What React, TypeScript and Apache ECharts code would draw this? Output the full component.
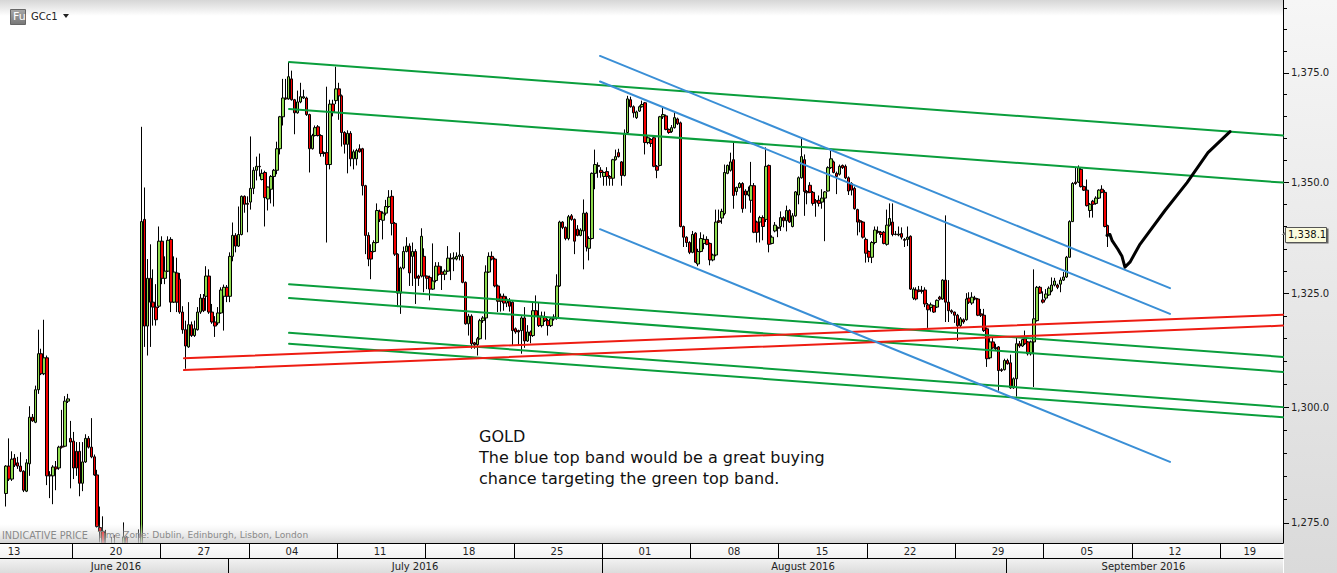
import React, { useEffect, useRef } from "react";
import * as echarts from "echarts";

// Every bar is [open, close, low, high].
const juneBars = [
  [1281.3,1287.2,1278.5,1287.4],[1287.2,1284.4,1284,1293.2],[1284.4,1288.7,1284,1290.4],[1288.9,1287.4,1287,1289.8],[1287.9,1287.2,1286.6,1289.2],[1287.2,1286.1,1285.9,1290.2],
  [1286.1,1282,1281.6,1286.3],[1281.8,1287.9,1281.6,1288.7],[1287.7,1297.8,1285.1,1300.2],[1297.8,1297,1296.8,1298.5],[1296.7,1303.8,1296.5,1304.7],[1303.8,1311.7,1302.9,1317],
  [1311.7,1307.3,1307,1312.8],[1307.3,1310.8,1307,1319.2],[1310.8,1285.1,1283.1,1311.3],[1285.3,1285.1,1280.3,1286.1],[1285.1,1287,1279,1287.4],[1287,1286.6,1282,1288.3],
  [1286.8,1291.3,1286.4,1291.6],[1291.5,1291.3,1291,1299.4],[1291.5,1301.3,1291.3,1302.4],[1301.3,1301.8,1300.9,1302.9],[1293.2,1292.4,1282.4,1297],[1292.6,1286.8,1284.4,1294.6],
  [1290.4,1286.8,1285.1,1292.4],[1290.4,1283.5,1280.7,1292.4],[1283.5,1288.1,1281.8,1292.4],[1288.1,1293.2,1287.9,1294.1],[1293.2,1291.3,1291,1293.7],[1291.3,1289.2,1288.9,1297.6],
  [1289.2,1285.3,1285.1,1289.7],[1285.3,1274.2,1274,1286.4],[1274,1273.2,1270.8,1278.5],[1273.2,1270,1268.5,1276.4],[1269.6,1268.7,1266,1273.5],[1268.7,1269.8,1266,1270],
  [1269.8,1268.6,1266,1272],[1268.6,1269.5,1265,1272.4],[1269.5,1268.9,1265,1270.2],[1268.9,1269.6,1266,1270.3],[1269.6,1272,1267,1275.1],[1272,1269.5,1268.7,1272.2],
  [1269.5,1269.3,1266,1270.3],[1269.3,1268.3,1265,1270.2],[1268.3,1269.3,1265.7,1270.5],[1269.3,1270,1267,1273.6],[1269.5,1341.1,1268,1362.6],[1341.6,1317.8,1313.2,1348.8],
  [1317.8,1328.4,1311.3,1332.7],[1328.4,1323.1,1313.2,1336],[1323.1,1322,1317.9,1330.4],[1322,1319.2,1317.9,1327.1],[1322.2,1336.7,1321.8,1340],[1336.7,1328.4,1327.1,1337.8],
  [1328.4,1330,1327.1,1333.3],[1330,1336.9,1329.8,1337.8],[1337.1,1323.1,1320.9,1337.6],[1323.1,1329.8,1322.9,1333.3],[1329.6,1323.1,1320.9,1333],[1328.2,1320.9,1320.5,1329.6],
  [1320.9,1317,1316.1,1322.2],[1317,1313.4,1308.4,1319],[1313.2,1318.1,1313,1323.1],[1318.1,1315.7,1315.4,1318.8],[1315.7,1317.2,1315.4,1319],[1317,1320.9,1316.8,1322],
  [1320.9,1324,1320.5,1324.9],[1324,1321.2,1320.9,1324.9],[1324.4,1328.9,1321.2,1331.1],[1328.9,1320.9,1320.5,1330.4],[1320.9,1318.7,1318.3,1322.7],[1318.7,1317.8,1315.4,1320],
  [1318.5,1320.7,1318,1322],[1320.7,1325.8,1320.5,1326.4],
];
const julyBars = [
  [1324.4,1326.4,1316.8,1327],[1326.4,1324.4,1323.1,1326.9],[1324.4,1333.3,1323.1,1334.2],[1333.3,1338,1332.2,1340.9],[1338,1335.6,1334.2,1338.5],[1335.6,1338.2,1335.4,1344.5],
  [1338.2,1346.8,1338,1347],[1346.8,1345,1343.1,1347],[1345.2,1345,1338.7,1346.8],[1345.5,1348.6,1343.8,1360.4],[1348.6,1352.7,1347.3,1353.4],[1352.7,1353.6,1350.4,1355.8],
  [1353.6,1353.5,1351.3,1356.5],[1350.6,1352,1350.4,1352.9],[1352.2,1346.5,1340,1352.6],[1346.2,1348.9,1343.6,1349],[1348.4,1351.3,1345.2,1351.6],[1351.3,1352.7,1344.5,1353],
  [1352.7,1357.6,1351.8,1359.2],[1357.6,1364.9,1356.3,1365.1],[1364.9,1369.2,1362.9,1373.6],[1369.2,1369,1368.8,1373.6],[1369,1374.1,1368.8,1377.5],[1373.6,1368.8,1368.6,1375.5],
  [1368.8,1365.8,1360.9,1369],[1365.8,1368.3,1365.6,1370.9],[1368.3,1369.5,1368,1372.7],[1369.2,1369.5,1369,1371.1],[1369.2,1365.4,1365.1,1369.5],[1365.4,1357.6,1352.2,1365.6],
  [1357.6,1360.6,1357.4,1361],[1360.6,1362.4,1360.4,1362.9],[1362.6,1360.6,1360.4,1363],[1360.6,1356.5,1355.8,1360.9],[1356.7,1356.5,1355.8,1357],[1356.7,1354,1336.4,1371.8],
  [1354,1367.8,1352.9,1368.8],[1367.8,1366,1365,1368.8],[1368.6,1371.3,1367.8,1376.4],[1371.3,1369.7,1364.2,1372.7],[1369.7,1361.3,1358.1,1370],[1361.3,1358.6,1356.5,1361.6],
  [1358.6,1361.1,1352,1361.8],[1361.1,1355.3,1353.6,1361.6],[1355.3,1356.9,1352.9,1357.4],[1355.3,1357.2,1353.8,1357.6],[1357.6,1356.9,1356.7,1358.6],[1357.6,1349.2,1347,1357.8],
  [1349.2,1338,1333.8,1349.4],[1338,1332.7,1331.1,1338.7],[1334.4,1332.7,1328.2,1336],[1334.4,1336.4,1334.2,1336.9],[1336.4,1343.6,1336.2,1345.2],[1343.4,1341.6,1341,1343.8],
  [1341.4,1343,1337.1,1343.4],[1343,1344.5,1342.5,1346],[1344.5,1346.6,1344.2,1348.2],[1346.8,1340.7,1338,1348.2],[1340.7,1333.8,1333.4,1341],[1333.8,1325.1,1322,1334],
  [1325.1,1330.7,1320.5,1331],[1330.7,1334.4,1330.4,1335.5],[1334.4,1335.6,1334.2,1337.6],[1335.6,1329.6,1326.7,1336.2],[1333.3,1334.4,1326.7,1336.4],
  [1334.4,1328.4,1322.7,1334.9],[1328.9,1328.4,1326.7,1329.2],[1328.9,1337.8,1328.6,1339.6],[1333.3,1328.9,1325.3,1335.1],[1328.9,1328.4,1326,1329],[1328.6,1326,1323.5,1329],
  [1326,1327.8,1325.8,1336.2],[1327.9,1331.1,1327.5,1332],[1331.1,1329.3,1329,1332],[1329.8,1329.3,1325.8,1331.1],[1329.3,1330,1328,1330.4],[1330,1332.9,1329.8,1335.6],
  [1332.9,1332.7,1328,1334],[1332.7,1333,1330,1334.2],[1332.7,1333.3,1332.4,1334.2],[1333.3,1333.6,1332.4,1338.7],[1333.3,1327.5,1327.3,1333.8],[1327.5,1318.3,1318.1,1327.7],
  [1318.3,1320,1315.7,1320.5],[1320,1313.9,1312.8,1320.4],[1314.1,1313.7,1312.8,1314.3],[1313.7,1315,1311.3,1315.4],[1315,1319,1314.8,1319.4],[1319,1319.6,1318.5,1320],
  [1319.6,1329.8,1314.8,1331.3],[1329.8,1333.3,1329.6,1334.2],[1333.3,1332.7,1332.4,1334.4],[1332.7,1326.7,1326.4,1333],[1326.7,1323.3,1320.9,1327],[1324.4,1323.3,1321,1325],
  [1324.4,1322.9,1321.2,1325],[1322.9,1323.8,1322,1324.4],[1323.3,1322.2,1321,1324],[1323.1,1316.8,1313.4,1323.3],[1317.2,1316.5,1316.1,1317.5],
  [1316.8,1316.5,1313.4,1317],[1316.8,1319.6,1311.7,1320],[1319.6,1314.5,1313,1322],[1314.5,1316.5,1314.3,1318],[1316.5,1315.7,1314,1316.8],[1315.7,1321.2,1315.4,1323.1],
  [1321.2,1320,1319.8,1324.6],[1320,1317.9,1317.6,1322.9],[1317.9,1320,1317.5,1321],[1319.8,1319,1318.7,1321],[1319,1317.9,1315.7,1319.4],[1317.9,1319.4,1317.6,1319.8],
  [1319.4,1319.8,1319,1320.4],[1319.6,1326.7,1319.2,1329.3],[1326.7,1341,1326.5,1341.3],[1341,1339.8,1339.4,1341.2],[1339.8,1337.3,1336.9,1340],[1337.3,1342.2,1336.9,1342.6],
];
const augustBars = [
  [1342.4,1341.6,1341.3,1342.8],[1341.6,1336.7,1333.8,1341.8],[1339.4,1338,1337.8,1340.3],[1338,1339.2,1337.8,1339.6],[1339,1343,1330.4,1346.1],[1343,1335.4,1334.4,1343.3],
  [1335.1,1337.3,1332.4,1337.8],[1337.3,1352,1337.1,1352.2],[1352,1354,1348.4,1357.4],[1353.8,1353.6,1351,1354.5],[1352.7,1352.2,1351,1353.4],[1351.3,1352.2,1349.2,1352.4],
  [1352.4,1351.3,1349.2,1353.4],[1351.3,1350.9,1349.2,1351.6],[1350.9,1355.1,1349.2,1355.3],[1355.1,1355.8,1354.9,1357.4],[1356.7,1355.8,1355.6,1357.6],[1354.6,1351.5,1349.2,1354.8],
  [1351.5,1361.1,1351.3,1362],[1361.3,1369,1361,1369.7],[1368.8,1367.2,1367,1369.5],[1367.2,1365.8,1364.7,1367.5],[1364.7,1366,1364.4,1366.3],
  [1366.2,1367.2,1366,1367.5],[1367.2,1367.7,1367,1368.6],[1368.1,1359,1356.3,1368.3],[1359,1360.1,1358.6,1360.6],[1359.7,1358.8,1358,1360],[1360.1,1353.6,1353.4,1360.4],
  [1353.6,1352.7,1350.9,1353.9],[1353.8,1364.9,1353.6,1365.1],[1364.9,1365.4,1364.4,1367],[1365.1,1362,1361.8,1365.4],[1362,1361.3,1361,1362.2],[1361.5,1362.4,1361.2,1363],
  [1362.4,1364.7,1362.2,1366],[1364.4,1363.3,1363,1364.7],[1363.5,1340,1339.8,1363.8],[1340,1337.6,1335.4,1340.2],[1337.6,1336.4,1335.4,1337.8],[1336.4,1334.2,1333.8,1336.7],
  [1334.2,1338.2,1334,1339],[1338.5,1332,1331.8,1338.7],[1331.6,1334.4,1331.1,1335],[1334.4,1337.3,1334.2,1338.7],[1336.2,1337.1,1334.9,1338.2],
  [1337.1,1336,1335.8,1337.8],[1336.2,1332.5,1331.3,1336.4],[1332.5,1333.6,1332.2,1333.9],[1333.6,1341,1333.3,1343.8],[1341.3,1341,1340.8,1343.8],[1341.9,1343.4,1340.6,1344],
  [1342.9,1352.2,1342.5,1354],[1352,1353.8,1351.8,1354],[1352.7,1354.6,1352.4,1356.7],[1355.1,1347,1344,1359],[1347.9,1348.8,1347,1349],[1348.8,1349.7,1348.6,1350],
  [1349.7,1344,1343.1,1350],[1348,1347.1,1344,1348.4],[1347.1,1348,1346.8,1349],[1345.9,1349.2,1343.1,1354.6],[1349.2,1338.7,1338.5,1349.8],[1341,1338.7,1336.4,1341.3],
  [1341,1342,1336.4,1342.4],[1342,1340,1336.9,1342.5],[1341.6,1353.6,1341,1357.9],[1353.8,1336,1334.2,1354],[1336.2,1337.6,1336,1338],[1339,1340.3,1338.7,1341],
  [1339.8,1339.6,1337.6,1340],[1340,1342,1339,1343.4],[1342,1341.3,1339.8,1342.3],[1341.3,1343.6,1338.9,1344.7],[1343.6,1341,1340.8,1343.9],[1340,1342.4,1339.8,1343],
  [1342.4,1347.8,1342.2,1348],[1347.1,1351,1345,1351.3],[1351,1355.8,1350.8,1360.2],[1355.1,1347.9,1342.4,1356.3],[1347.9,1347.6,1345,1348.2],[1349.3,1347.7,1347.5,1350],
  [1347.7,1345.2,1344.7,1348],[1345.8,1345.5,1342.2,1346.2],[1345.9,1345.2,1344.5,1347],[1345.5,1346.4,1344,1348.4],[1346.4,1347.8,1336.7,1348],[1348,1353.3,1347.9,1353.6],
  [1353.3,1355.3,1353,1357.2],[1354.6,1352.2,1352,1354.9],[1352,1351.3,1347.3,1352.4],[1351.8,1353.6,1351.5,1354],[1353.8,1353.3,1353,1354],[1353.6,1351,1350.7,1354],
  [1351,1348,1347.1,1351.3],[1349.7,1348.2,1347,1350],[1348.6,1344,1343.8,1349],[1343.8,1341,1338,1344],[1341.3,1341,1338.7,1341.6],
  [1341,1337.6,1337.3,1341.2],[1337.1,1334,1331.9,1337.5],[1334.4,1333.1,1332,1334.6],[1333.1,1336.4,1331.8,1336.7],[1336.4,1339.2,1336,1340],[1338.9,1338.7,1338.4,1340],
  [1338.7,1338.2,1337.5,1339],[1338.7,1336.2,1336,1339],[1336,1340.3,1335.7,1343.8],[1340.3,1341.8,1340,1345.2],[1341,1338.2,1337.8,1345.2],[1338.3,1338.2,1338,1339],
  [1338.1,1338.3,1337.8,1340],[1338.4,1337.6,1337.1,1339.8],[1337.1,1336.9,1335.4,1337.4],[1337.1,1337.6,1335.6,1340],[1337.8,1326,1325.8,1338],[1324,1326,1323.6,1326.4],
  [1325.8,1323.8,1323.5,1326.4],[1325.8,1325.5,1325.3,1326.7],[1325.7,1325.5,1325,1326.7],[1325.8,1322.7,1322,1326.4],[1322.5,1321.4,1317.4,1322.9],[1321.9,1322.5,1321,1323],
  [1322.3,1320.9,1320.7,1322.5],[1322,1323.5,1321.8,1323.7],[1324.2,1323.8,1323.5,1324.5],[1323.8,1328,1323.6,1328.2],[1328,1323.1,1318.7,1342.5],[1323.1,1321.2,1318.7,1328],
  [1321.2,1320.9,1320.5,1321.5],[1320.9,1320.2,1318.5,1321],[1320.2,1317.9,1314.5,1320.5],[1317.9,1319.4,1317.6,1319.8],[1319.2,1318.7,1318.3,1319.5],[1319.2,1323.8,1319,1325.1],
  [1324,1323.1,1322.7,1325.3],[1322.9,1324.2,1322.5,1325.3],[1324,1323.8,1323.5,1324.5],[1323.8,1320.2,1320,1324],[1320.5,1320.2,1319.8,1321.6],[1320.2,1316.8,1316.5,1321.6],
  [1317.2,1310.6,1308.8,1317.5],[1310.8,1314.3,1310.5,1315.2],[1314.3,1313,1312.8,1315.2],[1313,1312.8,1312.5,1313.9],[1313.2,1308,1303.6,1313.4],
  [1308.2,1308,1307.7,1308.5],[1308.2,1310.2,1308,1310.6],[1310.2,1309.5,1309.3,1310.6],[1309.7,1304.2,1304,1311.5],[1304.2,1306.2,1304,1306.5],[1306.2,1313.9,1302.3,1315.4],
];
const septemberBars = [
  [1313.9,1313.4,1313,1314.5],[1313.4,1314.8,1313.2,1315],[1315,1313.9,1313.6,1316.8],[1314.3,1311.7,1311.3,1314.5],[1311.7,1314.3,1311.3,1314.6],[1314.3,1319.4,1304.4,1330.4],
  [1319,1326.4,1318.8,1326.7],[1326.4,1325.1,1324.9,1326.7],[1323.6,1323.1,1322.8,1325.5],[1324,1324.9,1323.5,1326],[1324.7,1326.2,1324.5,1326.6],[1325.6,1326.9,1325.3,1328.6],
  [1326.9,1327.8,1326.6,1328.5],[1326.9,1326.4,1326,1327.2],[1327.1,1328,1325.3,1328.6],[1328,1328.7,1327.8,1329.8],[1328.7,1333.1,1328.5,1333.4],
  [1333.1,1341.1,1333,1341.4],[1341.1,1349.7,1341,1350],[1350,1349.7,1349.4,1353.3],[1350,1353.3,1349.8,1353.8],[1352.9,1349,1348.8,1353.2],[1349,1348.2,1348,1349.2],
  [1348.2,1344.7,1344.5,1350.6],[1343.6,1345,1342,1345.3],[1345.7,1345,1342,1346],[1345.2,1346.4,1344.9,1346.8],[1346.4,1348.2,1346.2,1348.4],[1348.4,1347.7,1347.5,1349.3],
  [1347.7,1340,1339.8,1348.2],[1340.2,1338.1,1335.4,1340.4],
];

const leadingEmptyBars = 2;
const barSlots = 436;

const axisMin = 1270.7;
const axisMax = 1391.9;
const priceTicks = [1275,1280,1285,1290,1295,1300,1305,1310,1315,1320,1325,1330,1335,1340,1345,1350,1355,1360,1365,1370,1375,1380,1385,1390];
const priceLabels = [1275,1300,1325,1350,1375];
const lastPrice = "1,338.1";

// horizontal position in bar units
const xMin = -0.5;
const xMax = 435.9;
const weekTicks = [24.56,54.56,84.56,114.56,144.56,174.56,204.56,234.56,264.56,294.56,324.56,354.56,384.56,414.56];
const weekLabelPos = [4.76,39.4,69.3,99.2,129.1,159.3,189.2,219.1,249.4,279.3,309.2,339.1,369.3,399.2,424.6];
const weekLabels = ["13","20","27","04","11","18","25","01","08","15","22","29","05","12","19"];
const monthTicks = [77.5,204.55,341.8];
const monthLabelPos = [39.4,141,272.8,388.5];
const monthLabels = ["June 2016","July 2016","August 2016","September 2016"];

const greenLines = [
  [[98.2,1377.5],[435.9,1360.6]],
  [[98.2,1366.7],[435.9,1349.9]],
  [[98.2,1327.1],[435.9,1311]],
  [[98.2,1324],[435.9,1307.7]],
  [[98.2,1316.3],[435.9,1300]],
  [[98.2,1313.9],[435.9,1297.8]],
];
const redLines = [
  [[62.5,1310.7],[435.9,1320.3]],
  [[62.5,1308.1],[435.9,1317.9]],
];
const blueLines = [
  [[203.85,1378.9],[397.5,1326.2]],
  [[203.85,1373],[397.5,1320.5]],
  [[203.85,1339.4],[397.5,1288.1]],
];
const forecastPath = [
  [376.1,1338],[377.1,1338.2],[377.8,1336.9],[379.8,1334.9],[381.2,1333.3],[382.2,1330.9],[383.9,1332],
  [387.3,1336],[395.8,1343.6],[403.3,1349.9],[410.4,1356.7],[417.9,1361.5],
];

const noteLines = ["GOLD", "The blue top band would be a great buying", "chance targeting the green top band."];
const footerLeft = "INDICATIVE PRICE";
const footerRight = "Time Zone: Dublin, Edinburgh, Lisbon, London";

const FONT = "DejaVu Sans";
const vGrad = (stops: [number, string][]) =>
  new echarts.graphic.LinearGradient(0, 0, 0, 1, stops.map(([offset, color]) => ({ offset, color })));

export default function App() {
  const ref = useRef<HTMLDivElement>(null);
  useEffect(() => {
    const chart = echarts.init(ref.current!, null, { renderer: "svg" });
    const bars = [
      ...Array.from({ length: leadingEmptyBars }, () => ["-", "-", "-", "-"]),
      ...juneBars, ...julyBars, ...augustBars, ...septemberBars,
    ];
    const lineSeries = (data: number[][], color: string, width: number) => ({
      type: "line", xAxisIndex: 1, yAxisIndex: 0, data, symbol: "none", silent: true, z: 5,
      lineStyle: { color, width, cap: "round", join: "round" }, clip: true,
    });
    chart.setOption({
      animation: false,
      backgroundColor: "#ffffff",
      grid: { left: -1.47, right: 54, top: 0, bottom: 30, containLabel: false, outerBoundsMode: "none" },
      xAxis: [
        { type: "category", data: Array.from({ length: barSlots }, (_, i) => String(i)), show: false, gridIndex: 0 },
        {
          type: "value", min: xMin, max: xMax, position: "bottom", gridIndex: 0, splitLine: { show: false }, z: 30,
          axisLine: { show: true, onZero: false, lineStyle: { color: "#000", width: 1 } },
          axisTick: { show: true, customValues: weekTicks, length: 15, lineStyle: { color: "#000", width: 1 } },
          axisLabel: {
            show: true, customValues: weekLabelPos, margin: 3, fontFamily: FONT, fontSize: 10, color: "#222",
            formatter: (v: number) => weekLabels[weekLabelPos.indexOf(v)] ?? "",
          },
        },
        {
          type: "value", min: xMin, max: xMax, position: "bottom", offset: 15, gridIndex: 0, splitLine: { show: false }, z: 30,
          axisLine: { show: true, onZero: false, lineStyle: { color: "#000", width: 1 } },
          axisTick: { show: true, customValues: monthTicks, length: 15, lineStyle: { color: "#000", width: 1 } },
          axisLabel: {
            show: true, customValues: monthLabelPos, margin: 3, fontFamily: FONT, fontSize: 10, color: "#222",
            formatter: (v: number) => monthLabels[monthLabelPos.indexOf(v)] ?? "",
          },
        },
      ],
      yAxis: [
        {
          type: "log", min: axisMin, max: axisMax, position: "right", scale: true, splitLine: { show: false }, minorTick: { show: false },
          axisLine: { show: true, onZero: false, lineStyle: { color: "#000", width: 1 } },
          axisTick: { show: true, customValues: priceTicks, length: 4, lineStyle: { color: "#000", width: 1 } },
          axisLabel: {
            show: true, customValues: priceLabels, margin: 8, fontFamily: FONT, fontSize: 10, color: "#222",
            formatter: (v: number) => Math.round(v).toLocaleString("en-US") + ".0",
          },
        },
        {
          type: "log", min: axisMin, max: axisMax, position: "right", scale: true, splitLine: { show: false }, minorTick: { show: false },
          axisLine: { show: false, onZero: false },
          axisTick: { show: true, customValues: priceLabels, length: 6, lineStyle: { color: "#000", width: 1 } },
          axisLabel: { show: false },
        },
      ],
      series: [
        {
          type: "candlestick", xAxisIndex: 0, yAxisIndex: 0, data: bars, barWidth: 3, clip: true, z: 3,
          itemStyle: { color: "#8EDB4E", color0: "#F40000", borderColor: "#000", borderColor0: "#000", borderWidth: 1 },
        },
        ...greenLines.map((d) => lineSeries(d, "#0A9E3C", 2)),
        ...redLines.map((d) => lineSeries(d, "#EE1C12", 2)),
        ...blueLines.map((d) => lineSeries(d, "#3A8FD6", 2)),
        lineSeries(forecastPath, "#000000", 3),
      ],
      graphic: {
        elements: [
          { type: "rect", z: 1, silent: true, shape: { x: 0, y: 0, width: 1283, height: 16 }, style: { fill: vGrad([[0, "#d6d6d6"], [1, "#ffffff"]]) } },
          { type: "rect", z: 20, silent: true, shape: { x: 0, y: 524, width: 1283, height: 19 }, style: { fill: vGrad([[0, "rgba(225,225,225,0)"], [1, "rgba(205,205,205,0.85)"]]) } },
          { type: "rect", z: 0, silent: true, shape: { x: 1284, y: 0, width: 53, height: 573 }, style: { fill: vGrad([[0, "#f6f6f6"], [1, "#dadada"]]) } },
          // the two date rows sit above any bar that runs below the plot
          { type: "rect", z: 21, silent: true, shape: { x: 0, y: 543, width: 1283, height: 15 }, style: { fill: vGrad([[0, "#ffffff"], [1, "#f2f2f2"]]) } },
          { type: "rect", z: 21, silent: true, shape: { x: 0, y: 558, width: 1283, height: 15 }, style: { fill: vGrad([[0, "#f3f3f3"], [1, "#dcdcdc"]]) } },
          { type: "rect", z: 21, shape: { x: 10.5, y: 9.5, width: 15, height: 15 }, style: { fill: vGrad([[0, "#a8a8a8"], [1, "#777777"]]), stroke: "#666", lineWidth: 1 } },
          { type: "text", z: 22, x: 13, y: 11, style: { text: "Fu", fill: "#fff", font: `11px ${FONT}` } },
          { type: "text", z: 22, x: 31, y: 11, style: { text: "GCc1", fill: "#222", font: `10px ${FONT}` } },
          { type: "polygon", z: 22, shape: { points: [[63, 14], [69, 14], [66, 18]] }, style: { fill: "#222" } },
          { type: "text", z: 22, x: 2, y: 530, style: { text: footerLeft, fill: "#8a8a8a", font: `9.7px ${FONT}` } },
          { type: "text", z: 22, x: 98, y: 530, style: { text: footerRight, fill: "#8a8a8a", font: `9.1px ${FONT}` } },
          ...noteLines.map((text, i) => ({
            type: "text", z: 22, x: 479, y: 428 + i * 21, style: { text, fill: "#111", font: `16px ${FONT}` },
          })),
          { type: "polygon", z: 22, shape: { points: [[1285, 235], [1281.5, 235], [1285, 232]] }, style: { fill: "#777" } },
          { type: "rect", z: 22, shape: { x: 1286.5, y: 228.5, width: 42, height: 15 }, style: { fill: "#666" } },
          { type: "rect", z: 23, shape: { x: 1285.5, y: 227.5, width: 41, height: 15 }, style: { fill: "#FBFBDD", stroke: "#555", lineWidth: 1 } },
          { type: "text", z: 24, x: 1288, y: 229, style: { text: lastPrice, fill: "#111", font: `10px ${FONT}` } },
        ],
      },
    } as any);
    return () => chart.dispose();
  }, []);
  return <div ref={ref} style={{ position: "fixed", left: 0, top: 0, width: 1337, height: 573 }} />;
}
